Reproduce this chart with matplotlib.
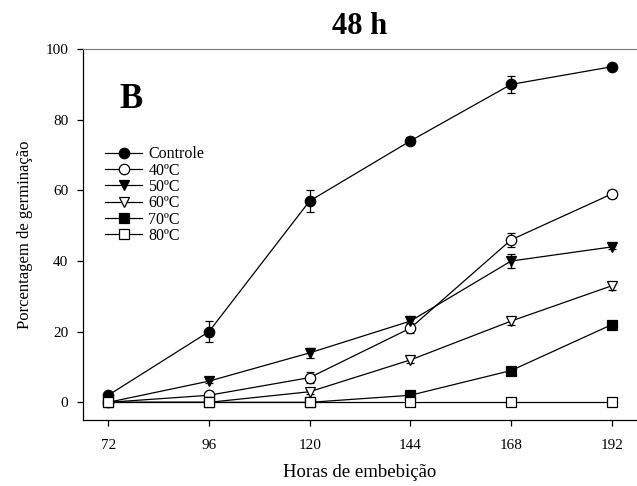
import matplotlib
matplotlib.use("Agg")
import matplotlib.pyplot as plt

plt.rcParams['font.family'] = ['Liberation Serif', 'DejaVu Serif']

hours = [72, 96, 120, 144, 168, 192]
series_names = ['Controle', '40ºC', '50ºC', '60ºC', '70ºC', '80ºC']
controle = [2, 20, 57, 74, 90, 95]
controle_err = [0, 3, 3, 1, 2.5, 0.5]
t40 = [0, 2, 7, 21, 46, 59]
t40_err = [0, 0.5, 1.5, 1.5, 2, 1.2]
t50 = [0, 6, 14, 23, 40, 44]
t50_err = [0.5, 0.5, 1.5, 1.5, 2, 0.5]
t60 = [0, 0, 3, 12, 23, 33]
t60_err = [0, 0.3, 0.5, 1, 1, 1.2]
t70 = [0, 0, 0, 2, 9, 22]
t70_err = [0, 0, 0, 0.3, 0.5, 0.5]
t80 = [0, 0, 0, 0, 0, 0]
t80_err = [0, 0, 0, 0, 0, 0]

markers = ['o', 'o', 'v', 'v', 's', 's']
fills = ['black', 'white', 'black', 'white', 'black', 'white']
values = [controle, t40, t50, t60, t70, t80]
errors = [controle_err, t40_err, t50_err, t60_err, t70_err, t80_err]

fig = plt.figure(figsize=(6.37, 4.86), dpi=100)
ax = fig.add_axes([0.1303, 0.1358, 0.8697, 0.7632])

sizes = [7.5, 7.5, 7.5, 7.5, 6.5, 6.5]
for name, v, e, m, f, s in zip(series_names, values, errors, markers, fills, sizes):
    ax.errorbar(hours, v, yerr=e, marker=m, markerfacecolor=f, markeredgecolor='black',
                color='black', linewidth=0.9, markersize=s, capsize=3, elinewidth=0.9,
                capthick=0.9, label=name, markeredgewidth=0.9)

ax.set_xlim(66, 198)
ax.set_ylim(-5, 100)
ax.set_xticks(hours)
ax.set_yticks([0, 20, 40, 60, 80, 100])
ax.tick_params(direction='out', labelsize=11, length=4.5, width=0.9)
ax.tick_params(axis='x', pad=9)
ax.tick_params(axis='y', pad=6)
ax.spines['right'].set_visible(False)
ax.spines['top'].set_color('#777777')
ax.spines['left'].set_linewidth(0.9)
ax.spines['bottom'].set_linewidth(0.9)

ax.set_xlabel('Horas de embebição', fontsize=13.5, labelpad=9)
ax.set_ylabel('Porcentagem de germinação', fontsize=12, labelpad=9)
ax.set_title('48 h', fontsize=22, fontweight='bold', pad=11)

ax.text(0.065, 0.863, 'B', transform=ax.transAxes, fontsize=25, fontweight='bold',
        va='center', ha='left')

handles, labels = ax.get_legend_handles_labels()
handles = [h[0] for h in handles]
ax.legend(handles, labels, loc='upper left', bbox_to_anchor=(0.02, 0.768), frameon=False,
          fontsize=11.5, handlelength=2.3, labelspacing=0.02, handletextpad=0.4, borderpad=0.2)

fig.savefig('out.png', dpi=100)
